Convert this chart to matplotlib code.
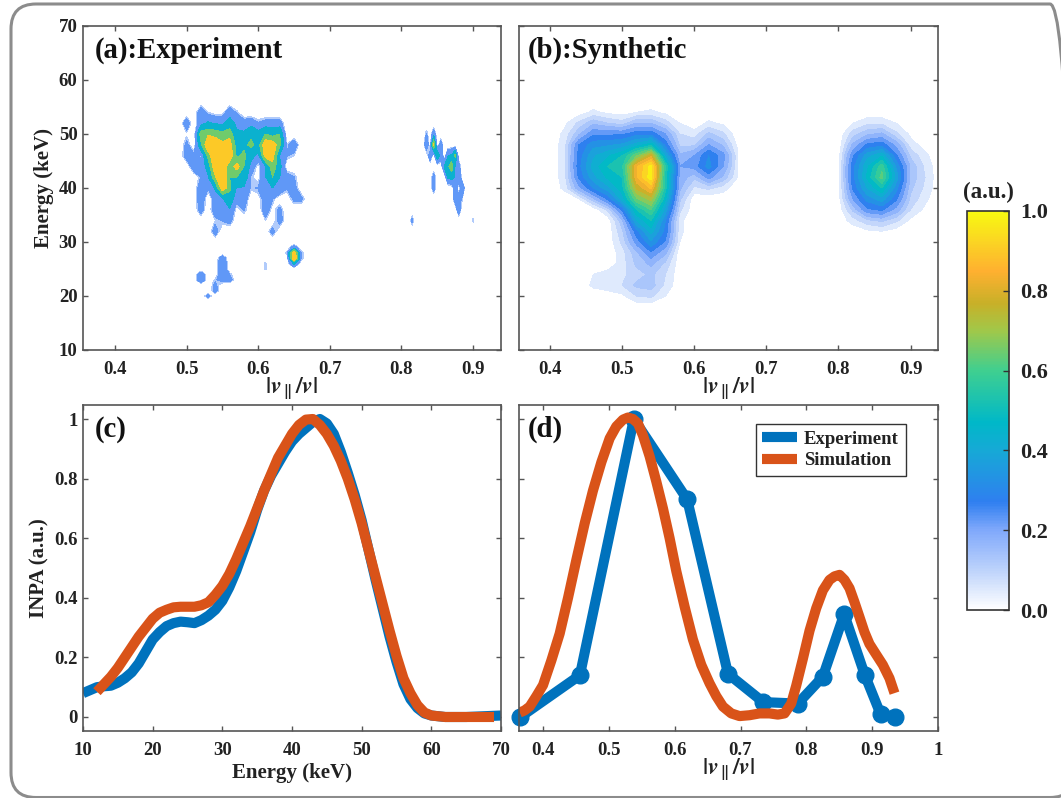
import numpy as np
import matplotlib
matplotlib.use('Agg')
import matplotlib.pyplot as plt
from matplotlib.colors import LinearSegmentedColormap, Normalize
from matplotlib.cm import ScalarMappable
from matplotlib.patches import FancyBboxPatch
from matplotlib.transforms import Affine2D

W, H = 1061, 798

plt.rcParams['font.family'] = ['Liberation Serif']
plt.rcParams['font.weight'] = 'bold'
plt.rcParams['axes.labelweight'] = 'bold'
plt.rcParams['mathtext.fontset'] = 'stix'
plt.rcParams['text.color'] = '#222222'
plt.rcParams['axes.labelcolor'] = '#222222'
plt.rcParams['xtick.labelcolor'] = '#222222'
plt.rcParams['ytick.labelcolor'] = '#222222'

# colour scale (position, colour)
cbar_pos = [0.0, 0.1, 0.2, 0.27, 0.4, 0.47, 0.6, 0.7, 0.77, 0.85, 0.92, 1.0]
cbar_col = ['#ffffff', '#bcd2fb', '#7fa8fb', '#2f7ff0', '#16a9d6', '#00b8c8',
            '#3fcf90', '#a0c84a', '#c8b028', '#ffb030', '#fbd224', '#f8fa10']

# (a) experiment map, percent of maximum, rows from high energy to low
exp_v = np.arange(49, 68) / 100
exp_e = np.array([56, 54, 52, 50, 48, 46, 44, 42, 40, 38, 36, 34, 32, 30])
exp_z = np.array([
    [0, 0, 0, 0, 0, 0, 0, 0, 0, 0, 0, 0, 0, 0, 0, 0, 0, 0, 0],
    [0, 0, 0, 25, 10, 5, 5, 25, 12, 0, 0, 0, 0, 0, 0, 0, 0, 0, 0],
    [0, 25, 0, 25, 35, 30, 28, 40, 28, 22, 25, 15, 20, 22, 20, 0, 0, 0, 0],
    [0, 8, 0, 65, 72, 68, 62, 68, 35, 35, 50, 40, 55, 45, 55, 0, 0, 0, 0],
    [0, 18, 0, 50, 95, 90, 80, 85, 45, 50, 60, 45, 92, 90, 60, 10, 25, 0, 0],
    [0, 22, 18, 12, 62, 98, 95, 92, 50, 60, 40, 25, 85, 85, 30, 15, 10, 0, 0],
    [0, 0, 25, 20, 40, 95, 95, 60, 85, 55, 25, 5, 30, 68, 40, 0, 0, 0, 0],
    [0, 0, 0, 15, 30, 72, 98, 55, 55, 50, 12, 5, 30, 55, 32, 22, 15, 0, 0],
    [0, 0, 0, 25, 15, 35, 90, 60, 30, 30, 12, 15, 25, 32, 30, 15, 20, 0, 0],
    [0, 0, 0, 25, 0, 22, 30, 45, 20, 25, 0, 5, 22, 15, 0, 0, 18, 18, 0],
    [0, 0, 0, 22, 0, 25, 25, 30, 5, 15, 0, 0, 25, 5, 18, 0, 0, 0, 0],
    [0, 0, 0, 0, 0, 10, 15, 20, 0, 0, 0, 0, 10, 0, 22, 0, 0, 0, 0],
    [0, 0, 0, 0, 0, 22, 0, 0, 0, 0, 0, 0, 0, 20, 0, 0, 0, 0, 0],
    [0, 0, 0, 0, 0, 0, 0, 0, 0, 0, 0, 0, 0, 0, 0, 0, 0, 0, 0],
])

# (a) small spots below the main cluster
low_v = np.arange(51, 68) / 100
low_e = np.array([30, 29, 28, 27, 26, 25, 24, 23, 22, 21, 20, 19])
low_z = np.array([
    [0, 0, 0, 0, 0, 0, 0, 0, 0, 0, 0, 0, 0, 0, 0, 0, 0],
    [0, 0, 0, 0, 0, 0, 0, 0, 0, 0, 0, 0, 0, 0, 22, 0, 0],
    [0, 0, 0, 0, 0, 0, 0, 0, 0, 0, 0, 0, 0, 12, 95, 15, 0],
    [0, 0, 0, 0, 25, 0, 0, 0, 0, 0, 0, 0, 0, 0, 100, 15, 0],
    [0, 0, 0, 0, 30, 0, 0, 0, 0, 0, 12, 0, 0, 0, 35, 0, 0],
    [0, 0, 0, 0, 30, 0, 0, 0, 0, 0, 12, 0, 0, 0, 0, 0, 0],
    [0, 25, 0, 0, 28, 14, 0, 0, 0, 0, 0, 0, 0, 0, 0, 0, 0],
    [0, 30, 0, 12, 22, 22, 0, 0, 0, 0, 0, 0, 0, 0, 0, 0, 0],
    [0, 0, 0, 18, 0, 0, 0, 0, 0, 0, 0, 0, 0, 0, 0, 0, 0],
    [0, 0, 0, 20, 0, 0, 0, 0, 0, 0, 0, 0, 0, 0, 0, 0, 0],
    [0, 0, 18, 0, 0, 0, 0, 0, 0, 0, 0, 0, 0, 0, 0, 0, 0],
    [0, 0, 0, 0, 0, 0, 0, 0, 0, 0, 0, 0, 0, 0, 0, 0, 0],
])

# (a) cluster on the right
far_v = np.arange(810, 905, 5) / 1000
far_e = np.array([52, 50, 48, 46, 44, 42, 40, 38, 36, 34, 32])
far_z = np.array([
    [0, 0, 0, 0, 0, 0, 0, 0, 0, 0, 0, 0, 0, 0, 0, 0, 0, 0, 0],
    [0, 0, 0, 0, 0, 15, 0, 25, 0, 0, 0, 0, 0, 0, 0, 0, 0, 0, 0],
    [0, 0, 0, 0, 0, 28, 0, 80, 0, 22, 0, 0, 0, 0, 0, 0, 0, 0, 0],
    [0, 0, 0, 0, 0, 0, 25, 0, 50, 25, 0, 30, 35, 60, 0, 0, 0, 0, 0],
    [0, 0, 0, 0, 0, 0, 0, 0, 0, 0, 35, 50, 70, 30, 20, 0, 0, 0, 0],
    [0, 0, 0, 0, 0, 0, 0, 20, 0, 0, 0, 35, 40, 30, 30, 0, 0, 0, 0],
    [0, 0, 0, 0, 0, 0, 0, 20, 0, 0, 0, 0, 0, 25, 0, 28, 0, 0, 0],
    [0, 0, 0, 0, 0, 0, 0, 0, 0, 0, 0, 0, 0, 22, 22, 10, 0, 0, 0],
    [0, 0, 0, 0, 0, 0, 0, 0, 0, 0, 0, 0, 0, 0, 25, 0, 0, 0, 0],
    [0, 18, 0, 0, 0, 0, 0, 0, 0, 0, 0, 0, 0, 0, 0, 0, 0, 0, 12],
    [0, 0, 0, 0, 0, 0, 0, 0, 0, 0, 0, 0, 0, 0, 0, 0, 0, 0, 0],
])

# (b) synthetic map, left lobe
syn_v = np.arange(40, 68, 2) / 100
syn_e = np.arange(56, 16, -2)
syn_z = np.array([
    [0, 0, 0, 0, 0, 0, 0, 0, 0, 0, 0, 0, 0, 0],
    [0, 0, 1, 4, 2, 1, 3, 4, 2, 0, 0, 0, 0, 0],
    [0, 2, 8, 14, 11, 9, 15, 15, 9, 3, 0, 4, 2, 0],
    [0, 4, 14, 24, 24, 24, 28, 28, 20, 7, 5, 12, 8, 0],
    [0, 5, 25, 33, 34, 36, 42, 48, 28, 10, 10, 20, 14, 2],
    [0, 5, 27, 39, 44, 50, 64, 78, 40, 16, 20, 30, 22, 4],
    [0, 5, 28, 42, 50, 54, 84, 97, 55, 20, 22, 32, 20, 4],
    [0, 5, 26, 38, 46, 50, 84, 98, 52, 18, 12, 22, 14, 3],
    [0, 4, 18, 30, 38, 48, 76, 86, 52, 16, 6, 8, 5, 0],
    [0, 0, 3, 14, 26, 42, 64, 72, 46, 12, 0, 0, 0, 0],
    [0, 0, 0, 0, 8, 26, 50, 60, 38, 8, 0, 0, 0, 0],
    [0, 0, 0, 0, 0, 14, 40, 50, 30, 4, 0, 0, 0, 0],
    [0, 0, 0, 0, 0, 10, 28, 42, 28, 4, 0, 0, 0, 0],
    [0, 0, 0, 0, 0, 8, 22, 34, 24, 3, 0, 0, 0, 0],
    [0, 0, 0, 0, 0, 5, 14, 24, 16, 0, 0, 0, 0, 0],
    [0, 0, 0, 0, 0, 5, 12, 16, 10, 0, 0, 0, 0, 0],
    [0, 0, 0, 3, 5, 6, 9, 12, 7, 0, 0, 0, 0, 0],
    [0, 0, 0, 4, 6, 7, 12, 13, 6, 0, 0, 0, 0, 0],
    [0, 0, 0, 0, 0, 2, 7, 8, 3, 0, 0, 0, 0, 0],
    [0, 0, 0, 0, 0, 0, 0, 0, 0, 0, 0, 0, 0, 0],
])

# (b) synthetic map, right lobe
syn2_v = np.arange(80, 96, 2) / 100
syn2_e = np.arange(54, 28, -2)
syn2_z = np.array([
    [0, 0, 0, 0, 0, 0, 0, 0],
    [0, 3, 6, 6, 3, 0, 0, 0],
    [0, 9, 14, 16, 8, 2, 0, 0],
    [0, 16, 26, 28, 18, 5, 1, 0],
    [1, 24, 38, 44, 26, 10, 4, 0],
    [1, 28, 44, 58, 34, 14, 6, 0],
    [1, 28, 46, 62, 38, 14, 7, 0],
    [1, 26, 40, 50, 32, 12, 6, 0],
    [1, 20, 32, 38, 26, 10, 4, 0],
    [0, 12, 24, 26, 18, 7, 2, 0],
    [0, 5, 10, 12, 8, 2, 0, 0],
    [0, 0, 2, 3, 1, 0, 0, 0],
    [0, 0, 0, 0, 0, 0, 0, 0],
])

# (c) energy spectra
c_exp_x = [10, 11, 12, 13, 14, 15, 16, 17, 18, 19, 20, 21, 22, 23, 24, 25, 26, 27, 28, 29,
           30, 31, 32, 33, 34, 35, 36, 37, 38, 39, 40, 41, 42, 43, 44, 45, 46, 47, 48, 49,
           50, 51, 52, 53, 54, 55, 56, 57, 58, 59, 60, 62, 65, 70]
c_exp_y = [.08, .09, .10, .103, .105, .115, .13, .15, .18, .22, .26, .285, .305, .315, .32,
           .318, .315, .325, .34, .36, .39, .435, .49, .555, .62, .695, .76, .81, .85, .89,
           .925, .95, .97, .99, 1.0, .985, .95, .89, .82, .745, .66, .56, .46, .365, .27,
           .185, .11, .06, .03, .012, .005, 0, 0, .005]
c_sim_x = [12, 13, 14, 15, 16, 17, 18, 19, 20, 21, 22, 23, 24, 25, 26, 27, 28, 29, 30, 31,
           32, 33, 34, 35, 36, 37, 38, 39, 40, 41, 42, 43, 44, 45, 46, 47, 48, 49, 50, 51,
           52, 53, 54, 55, 56, 57, 58, 59, 60, 62, 65, 69]
c_sim_y = [.085, .11, .135, .165, .2, .235, .27, .30, .33, .35, .36, .368, .37, .37, .37,
           .375, .385, .41, .44, .48, .53, .585, .64, .70, .76, .815, .87, .91, .95, .98,
           .998, 1.0, .98, .95, .91, .86, .80, .73, .65, .56, .47, .38, .29, .205, .13,
           .08, .04, .015, .005, 0, 0, 0]

# (d) pitch profiles
d_exp_x = [.3656, .456, .538, .619, .681, .7345, .787, .825, .8575, .889, .9127, .934]
d_exp_y = [0, .14, 1.0, .73, .145, .05, .045, .135, .345, .14, .01, 0]
d_sim_x = [.3646, .372, .3798, .3899, .4, .4127, .4253, .438, .4506, .4633, .4759, .4886,
           .5012, .5113, .5215, .529, .5366, .5442, .5518, .5619, .5721, .5822, .5923,
           .6024, .6151, .6277, .6404, .653, .6632, .6733, .686, .6986, .7138, .7289,
           .7441, .7567, .7669, .777, .7846, .7947, .8049, .815, .8251, .8352, .8428,
           .8504, .858, .8656, .8732, .8808, .8883, .8959, .906, .9162, .9263, .9339]
d_sim_y = [.015, .022, .035, .07, .107, .19, .28, .40, .527, .65, .76, .855, .935, .975,
           .998, 1.005, 1.0, .985, .945, .875, .79, .70, .60, .49, .37, .26, .175, .113,
           .07, .035, .012, .003, .006, .012, .012, .008, .012, .045, .105, .195, .29,
           .365, .425, .46, .472, .477, .46, .432, .385, .335, .285, .245, .21, .175,
           .13, .08]

map_xticks = [.4, .5, .6, .7, .8, .9]
map_yticks = [10, 20, 30, 40, 50, 60, 70]
c_xticks = [10, 20, 30, 40, 50, 60, 70]
line_yticks = [0, .2, .4, .6, .8, 1]
line_ylabels = ['0', '0.2', '0.4', '0.6', '0.8', '1']
d_xticks = [.4, .5, .6, .7, .8, .9, 1]
d_xlabels = ['0.4', '0.5', '0.6', '0.7', '0.8', '0.9', '1']
cbar_ticks = [0, .2, .4, .6, .8, 1]

exp_levels = [.10, .14, .32, .55, .75, 1.05]
syn_levels = [.03, .07, .11, .15, .2, .25, .3, .35, .4, .45, .5, .55, .6, .65, .7, .75,
              .8, .85, .9, .95, 1.01]

cmap = LinearSegmentedColormap.from_list('inpa', list(zip(cbar_pos, cbar_col)))
norm = Normalize(0, 1)
v_label = r'$|\mathbfit{v}_{\parallel}/\mathbfit{v}|$'
BLUE, ORANGE = '#0072BD', '#D95319'


def px_axes(fig, x0, y0, x1, y1):
    return fig.add_axes([x0 / W, 1 - y1 / H, (x1 - x0) / W, (y1 - y0) / H])


def style(ax):
    for s in ax.spines.values():
        s.set_color('#555555')
        s.set_linewidth(1.2)
    ax.tick_params(direction='in', top=True, right=True, length=3.5, width=1.0,
                   color='#555555', labelsize=13.5)
    ax.tick_params(axis='x', pad=8)
    ax.tick_params(axis='y', pad=4)


def panel_text(ax, x, y, s):
    ax.text(x, y, s, transform=ax.transAxes, fontsize=20.7, va='center', ha='left',
            color='#111111')


fig = plt.figure(figsize=(W / 100, H / 100), dpi=100)

# rounded frame around the whole figure, cut by the image edge
fr = FancyBboxPatch((36, 25.5), 1014, 743.5, boxstyle='round,pad=25,rounding_size=25',
                    fill=False, ec='#8c8c8c', lw=2.2)
fr.set_transform(Affine2D())
fig.add_artist(fr)

ax_a = px_axes(fig, 83, 26, 501, 350)
ax_b = px_axes(fig, 519, 26, 938, 350)
ax_c = px_axes(fig, 83, 405, 501, 731)
ax_d = px_axes(fig, 519, 405, 938, 731)

for v, e, z in [(exp_v, exp_e, exp_z), (low_v, low_e, low_z), (far_v, far_e, far_z)]:
    ax_a.contourf(v, e, z / 100, levels=exp_levels, cmap=cmap, norm=norm)
ax_a.set_xlim(.3553, .939)
ax_a.set_ylim(10, 70)
ax_a.set_xticks(map_xticks)
ax_a.set_yticks(map_yticks)
ax_a.set_xlabel(v_label, fontsize=17, labelpad=-2)
ax_a.set_ylabel('Energy (keV)', fontsize=15)
ax_a.yaxis.set_label_coords(-.069, .5)
panel_text(ax_a, .028, .925, '(a):Experiment')

for v, e, z in [(syn_v, syn_e, syn_z), (syn2_v, syn2_e, syn2_z)]:
    ax_b.contourf(v, e, z / 100, levels=syn_levels, cmap=cmap, norm=norm)
ax_b.set_xlim(.357, .938)
ax_b.set_ylim(10, 70)
ax_b.set_xticks(map_xticks)
ax_b.set_yticks(map_yticks)
ax_b.set_yticklabels([])
ax_b.set_xlabel(v_label, fontsize=17, labelpad=-2)
panel_text(ax_b, .022, .925, '(b):Synthetic')

ax_c.plot(c_exp_x, c_exp_y, color=BLUE, lw=7.3, solid_capstyle='butt')
ax_c.plot(c_sim_x, c_sim_y, color=ORANGE, lw=7.3, solid_capstyle='butt')
ax_c.set_xlim(10, 70)
ax_c.set_ylim(-.047, 1.047)
ax_c.set_xticks(c_xticks)
ax_c.set_yticks(line_yticks)
ax_c.set_yticklabels(line_ylabels)
ax_c.set_xlabel('Energy (keV)', fontsize=15, labelpad=3)
ax_c.set_ylabel('INPA (a.u.)', fontsize=15)
ax_c.yaxis.set_label_coords(-.079, .5)
panel_text(ax_c, .028, .925, '(c)')

ax_d.plot(d_exp_x, d_exp_y, color=BLUE, lw=7.3, marker='o', ms=12, label='Experiment',
          solid_capstyle='butt', clip_on=False)
ax_d.plot(d_sim_x, d_sim_y, color=ORANGE, lw=7.3, label='Simulation', solid_capstyle='butt')
ax_d.set_xlim(.3635, 1)
ax_d.set_ylim(-.047, 1.047)
ax_d.set_xticks(d_xticks)
ax_d.set_xticklabels(d_xlabels)
ax_d.set_yticks(line_yticks)
ax_d.set_yticklabels([])
ax_d.set_xlabel(v_label, fontsize=17, labelpad=-2)
panel_text(ax_d, .022, .925, '(d)')
leg = ax_d.legend(loc='upper left', bbox_to_anchor=(236.5 / 419, 1 - 19 / 326), fontsize=13.5,
                  frameon=True, fancybox=False, framealpha=1, edgecolor='#333333',
                  borderaxespad=0, handlelength=1.87, labelspacing=.23, handletextpad=.37,
                  borderpad=.35)
leg.get_frame().set_linewidth(1.0)
for h in leg.get_lines():
    h.set_marker('None')

for ax in [ax_a, ax_b, ax_c, ax_d]:
    style(ax)

cax = px_axes(fig, 967, 211, 1009, 610)
cb = fig.colorbar(ScalarMappable(norm=norm, cmap=cmap), cax=cax)
cb.set_ticks(cbar_ticks)
cb.set_ticklabels(['%.1f' % t for t in cbar_ticks])
cb.ax.tick_params(direction='in', length=4, width=1.0, color='#333333', labelsize=16, pad=8)
cb.outline.set_edgecolor('#333333')
cb.outline.set_linewidth(1.2)
fig.text(988 / W, 1 - 192 / H, '(a.u.)', fontsize=16.5, ha='center', va='center')

fig.savefig('out.png', dpi=100)
